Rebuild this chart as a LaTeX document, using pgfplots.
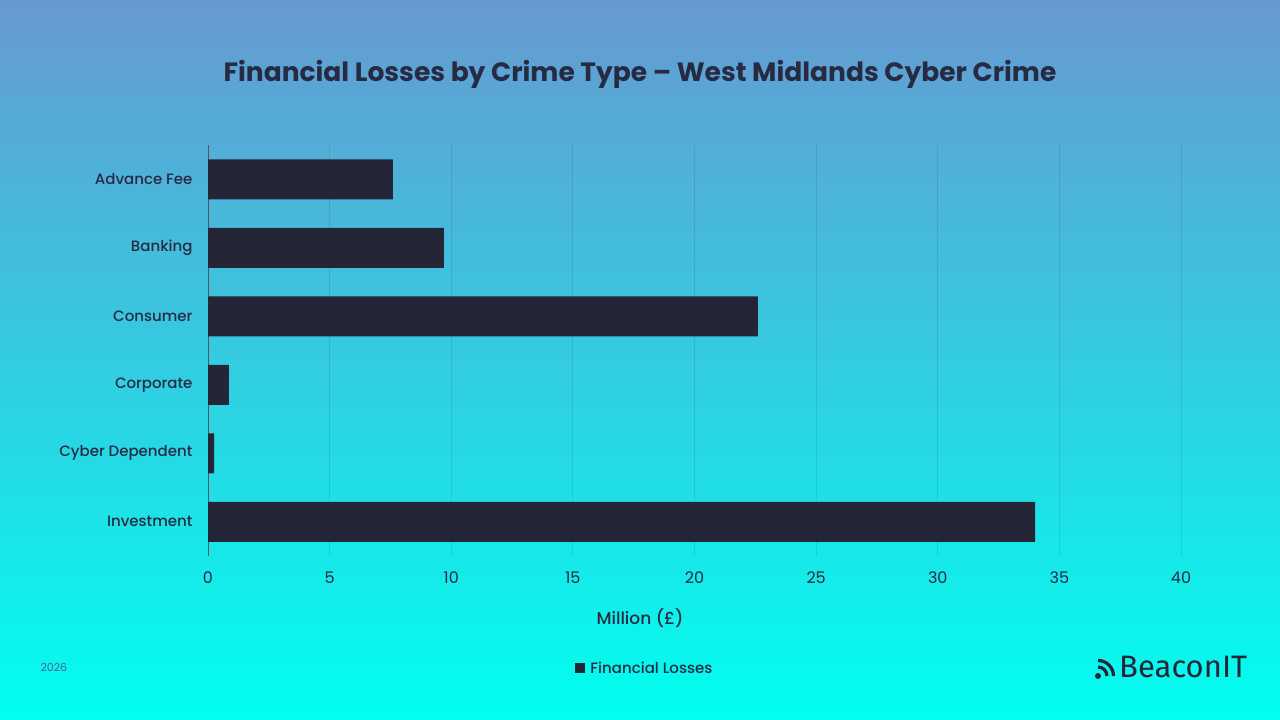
\documentclass[border=0pt]{standalone}
\usepackage{fontspec}
\setmainfont{Poppins}
\newfontfamily\medfont{Poppins Medium}
\newfontfamily\logofont{Fira Sans}
\usepackage{pgfplots}
\usepackage{pgfplotstable}
\pgfplotsset{compat=1.18}

\definecolor{bgtop}{RGB}{103,153,209}
\definecolor{bgmid}{RGB}{50,200,226}
\definecolor{bgbot}{RGB}{0,255,240}
\definecolor{barc}{RGB}{37,37,56}
\definecolor{ink}{RGB}{38,42,66}
\definecolor{yearc}{RGB}{80,95,150}

% position (top to bottom) and loss in million pounds
\pgfplotstableread{
pos value
0 7.6
1 9.7
2 22.6
3 0.86
4 0.25
5 34.0
}\losses

\begin{document}
\begin{tikzpicture}
\shade[top color=bgtop, middle color=bgmid, bottom color=bgbot] (0pt,0pt) rectangle (1280pt,720pt);

\node[font=\fontsize{26.5}{30}\selectfont\bfseries, text=ink] at (640pt,646pt)
  {Financial Losses by Crime Type – West Midlands Cyber Crime};

\begin{axis}[
    at={(208pt,164pt)}, anchor=south west,
    scale only axis, width=973pt, height=411pt,
    xbar, bar width=40pt,
    xmin=0, xmax=40,
    ymin=-0.5, ymax=5.5,
    y dir=reverse,
    ytick={0,...,5},
    yticklabels={Advance Fee,Banking,Consumer,Corporate,Cyber Dependent,Investment},
    xtick={0,5,...,40},
    axis lines=left,
    axis line style={-},
    x axis line style={draw=none},
    y axis line style={draw=ink!80, line width=0.8pt},
    major tick length=0pt,
    xmajorgrids,
    grid style={black, opacity=0.09, line width=0.8pt},
    /pgf/number format/assume math mode=true,
    ticklabel style={text=ink, font=\fontsize{16}{18}\selectfont},
    yticklabel style={font=\medfont\fontsize{15}{18}\selectfont, xshift=-12pt},
    xticklabel style={yshift=-12pt},
    xlabel={Million (£)},
    xlabel style={at={(axis description cs:0.444,0)}, anchor=center, yshift=-62pt,
        text=ink, font=\medfont\fontsize{17}{20}\selectfont},
    legend style={at={(0.449,-0.2725)}, anchor=center, draw=none, fill=none,
        text=ink, font=\medfont\fontsize{15}{18}\selectfont},
    legend image code/.code={\fill[barc] (0pt,-5pt) rectangle (10pt,5pt);},
    legend cell align=left,
]
\addplot[fill=barc, draw=none] table[x=value, y=pos] {\losses};
\addlegendentry{\hspace{3pt}Financial Losses}
\end{axis}

\node[anchor=base west, font=\fontsize{11}{12}\selectfont, text=yearc] at (37pt,48pt) {2026};

% logo
\fill[barc] (1098pt,44pt) circle (3pt);
\draw[barc, line width=3.2pt] (1098pt,53pt) arc (90:0:9pt);
\draw[barc, line width=3.2pt] (1098pt,59.5pt) arc (90:0:15.5pt);
\node[anchor=base west, inner sep=0pt, font=\logofont\fontsize{31}{34}\selectfont, text=barc] at (1119pt,42pt) {BeaconIT};
\end{tikzpicture}
\end{document}
